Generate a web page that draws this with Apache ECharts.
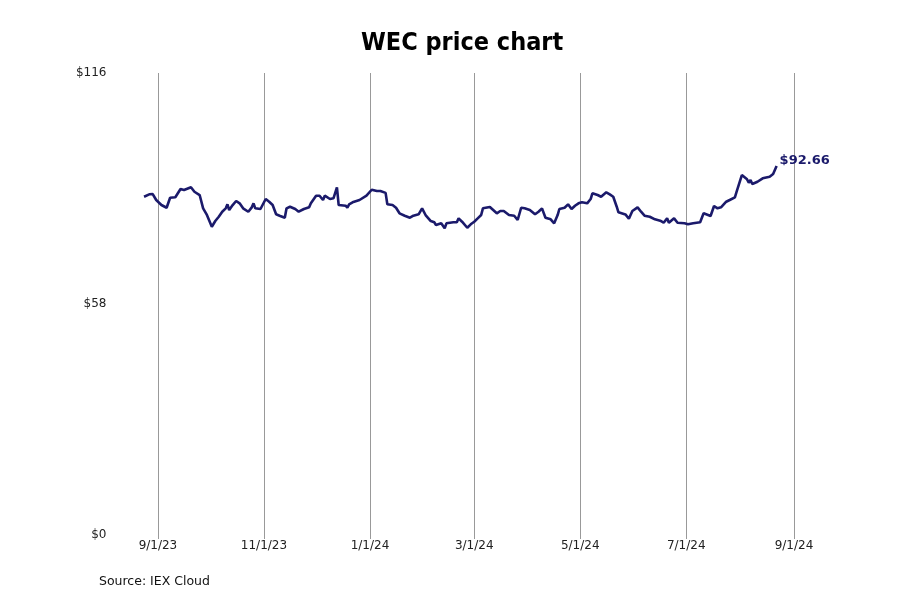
<!DOCTYPE html>
<html>
<head>
<meta charset="utf-8">
<title>WEC price chart</title>
<script src="https://cdn.jsdelivr.net/npm/echarts@6/dist/echarts.min.js"></script>
<style>
  html, body { margin: 0; padding: 0; background: #fff; }
  #chart { width: 900px; height: 600px; }
</style>
</head>
<body>
<div id="chart"></div>
<script>
// WEC closing prices
const dates = [
  '2023-08-24', '2023-08-27', '2023-08-29', '2023-08-31', '2023-09-03', '2023-09-06',
  '2023-09-08', '2023-09-11', '2023-09-14', '2023-09-16', '2023-09-20', '2023-09-22',
  '2023-09-25', '2023-09-27', '2023-09-29', '2023-09-30', '2023-10-02', '2023-10-04',
  '2023-10-06', '2023-10-08', '2023-10-10', '2023-10-11', '2023-10-12', '2023-10-14',
  '2023-10-16', '2023-10-18', '2023-10-20', '2023-10-23', '2023-10-25', '2023-10-26',
  '2023-10-27', '2023-10-30', '2023-11-02', '2023-11-04', '2023-11-06', '2023-11-08',
  '2023-11-10', '2023-11-13', '2023-11-14', '2023-11-16', '2023-11-19', '2023-11-21',
  '2023-11-24', '2023-11-27', '2023-11-28', '2023-12-01', '2023-12-03', '2023-12-05',
  '2023-12-06', '2023-12-09', '2023-12-11', '2023-12-13', '2023-12-14', '2023-12-18',
  '2023-12-19', '2023-12-20', '2023-12-22', '2023-12-26', '2023-12-30', '2024-01-02',
  '2024-01-05', '2024-01-07', '2024-01-10', '2024-01-11', '2024-01-14', '2024-01-16',
  '2024-01-18', '2024-01-21', '2024-01-24', '2024-01-26', '2024-01-29', '2024-01-31',
  '2024-02-02', '2024-02-05', '2024-02-07', '2024-02-08', '2024-02-11', '2024-02-13',
  '2024-02-14', '2024-02-18', '2024-02-20', '2024-02-21', '2024-02-23', '2024-02-26',
  '2024-02-28', '2024-03-01', '2024-03-03', '2024-03-05', '2024-03-06', '2024-03-10',
  '2024-03-11', '2024-03-14', '2024-03-16', '2024-03-18', '2024-03-21', '2024-03-24',
  '2024-03-26', '2024-03-28', '2024-03-30', '2024-04-02', '2024-04-05', '2024-04-07',
  '2024-04-09', '2024-04-11', '2024-04-14', '2024-04-16', '2024-04-18', '2024-04-19',
  '2024-04-22', '2024-04-24', '2024-04-26', '2024-04-28', '2024-04-30', '2024-05-02',
  '2024-05-05', '2024-05-07', '2024-05-08', '2024-05-11', '2024-05-13', '2024-05-16',
  '2024-05-18', '2024-05-20', '2024-05-22', '2024-05-23', '2024-05-27', '2024-05-29',
  '2024-05-31', '2024-06-03', '2024-06-05', '2024-06-07', '2024-06-10', '2024-06-11',
  '2024-06-13', '2024-06-16', '2024-06-18', '2024-06-20', '2024-06-21', '2024-06-24',
  '2024-06-26', '2024-06-27', '2024-06-30', '2024-07-02', '2024-07-05', '2024-07-09',
  '2024-07-11', '2024-07-12', '2024-07-15', '2024-07-17', '2024-07-19', '2024-07-21',
  '2024-07-22', '2024-07-24', '2024-07-26', '2024-07-29', '2024-07-30', '2024-08-02',
  '2024-08-05', '2024-08-06', '2024-08-07', '2024-08-08', '2024-08-11', '2024-08-14',
  '2024-08-15', '2024-08-18', '2024-08-20', '2024-08-22'
];

const prices = [
  84.94, 85.54, 85.61, 84.11, 82.85, 82.17,
  84.69, 84.79, 86.87, 86.62, 87.30, 86.19,
  85.36, 82.02, 80.52, 80.77, 77.40, 78.83,
  79.91, 81.17, 82.02, 83.03, 81.60, 82.85,
  83.86, 83.28, 82.02, 81.17, 82.27, 83.28,
  82.02, 81.85, 84.36, 83.68, 82.85, 80.52,
  80.17, 79.66, 82.02, 82.43, 81.85, 81.17,
  81.85, 82.27, 83.28, 85.19, 85.19, 84.11,
  85.19, 84.36, 84.53, 87.30, 82.85, 82.68,
  82.17, 83.03, 83.53, 84.11, 85.19, 86.69,
  86.37, 86.37, 85.90, 83.03, 82.85, 82.17,
  80.77, 80.17, 79.66, 80.17, 80.52, 82.02,
  80.34, 78.83, 78.51, 77.83, 78.26, 77.00,
  78.26, 78.51, 78.51, 79.51, 78.66, 77.15,
  78.01, 78.66, 79.51, 80.34, 82.02, 82.35,
  82.02, 80.77, 81.35, 81.35, 80.34, 80.17,
  79.09, 82.17, 82.02, 81.60, 80.52, 81.17,
  82.02, 79.66, 79.26, 78.26, 80.34, 81.85,
  82.17, 83.03, 81.85, 82.68, 83.28, 83.53,
  83.28, 84.36, 85.79, 85.36, 84.94, 86.04,
  85.54, 84.94, 82.43, 81.02, 80.50, 79.40,
  81.35, 82.27, 81.17, 80.17, 79.91, 80.09,
  79.26, 78.91, 78.41, 79.51, 78.41, 79.51,
  78.41, 78.83, 78.26, 78.01, 78.26, 78.51,
  80.77, 81.17, 80.09, 82.60, 82.02, 82.27,
  82.27, 83.68, 84.11, 84.79, 86.19, 90.38,
  89.30, 88.45, 89.13, 88.12, 88.70, 89.56,
  89.96, 89.96, 90.64, 92.66
];

const tickDates = ['2023-09-01', '2023-11-01', '2024-01-01', '2024-03-01',
                   '2024-05-01', '2024-07-01', '2024-09-01'];
const yTicks = [0, 58, 116];

const navy = '#1b1a6b';
const chart = echarts.init(document.getElementById('chart'));

const toTime = s => echarts.time.parse(s).getTime();

function fmtDate(v) {
  const d = new Date(v);
  return (d.getMonth() + 1) + '/' + d.getDate() + '/' + String(d.getFullYear()).slice(2);
}

const tickValues = tickDates.map(toTime);

chart.setOption({
  animation: false,
  title: {
    text: 'WEC price chart',
    left: 356,
    top: 26,
    textStyle: {
      fontFamily: 'DejaVu Sans Condensed',
      fontWeight: 'bold',
      fontSize: 25,
      color: '#000'
    }
  },
  grid: { left: 114.5, right: 73, top: 73, bottom: 65 },
  xAxis: {
    type: 'value',
    min: toTime('2023-08-07'),
    max: toTime('2024-09-20'),
    axisLine: { show: false },
    axisTick: { show: true, customValues: tickValues, length: 4, lineStyle: { color: '#999' } },
    axisLabel: {
      customValues: tickValues,
      formatter: fmtDate,
      margin: 5,
      fontFamily: 'DejaVu Sans',
      fontSize: 12,
      color: '#222'
    },
    splitLine: { show: true, lineStyle: { color: '#999', width: 1 } }
  },
  yAxis: {
    type: 'value',
    min: yTicks[0],
    max: yTicks[yTicks.length - 1],
    interval: yTicks[1] - yTicks[0],
    axisLine: { show: false },
    axisTick: { show: false },
    splitLine: { show: false },
    axisLabel: {
      formatter: v => '$' + v,
      margin: 8,
      padding: [0, 0, 0, 0],
      fontFamily: 'DejaVu Sans',
      fontSize: 12,
      lineHeight: 10,
      color: '#222'
    }
  },
  graphic: [{
    type: 'text',
    left: 99,
    top: 575,
    style: {
      text: 'Source: IEX Cloud',
      font: '12.5px "DejaVu Sans"',
      fill: '#111'
    }
  }],
  series: [{
    type: 'line',
    data: dates.map((d, i) => [toTime(d), prices[i]]),
    showSymbol: false,
    smooth: false,
    lineStyle: { color: navy, width: 2.6 },
    itemStyle: { color: navy },
    endLabel: {
      show: true,
      formatter: p => '$' + p.value[1].toFixed(2),
      color: navy,
      fontFamily: 'DejaVu Sans',
      fontWeight: 'bold',
      fontSize: 13,
      distance: 3,
      offset: [0, -5]
    }
  }]
});
</script>
</body>
</html>
